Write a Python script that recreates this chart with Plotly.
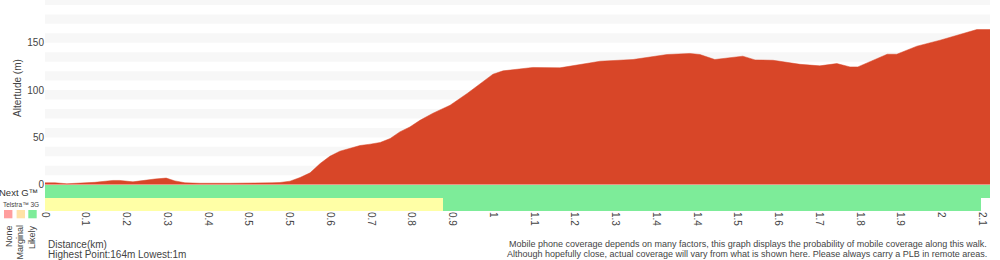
import plotly.graph_objects as go

# ---------------- data ----------------
distance_km = [0.000, 0.023, 0.050, 0.080, 0.114, 0.155, 0.171, 0.201, 0.229, 0.251,
               0.277, 0.297, 0.320, 0.354, 0.423, 0.491, 0.519, 0.537, 0.560, 0.583,
               0.606, 0.629, 0.651, 0.674, 0.697, 0.720, 0.743, 0.766, 0.789, 0.811,
               0.834, 0.857, 0.887, 0.926, 0.965, 1.001, 1.024, 1.047, 1.115, 1.177,
               1.230, 1.269, 1.344, 1.422, 1.474, 1.497, 1.531, 1.595, 1.623, 1.664,
               1.726, 1.771, 1.810, 1.840, 1.858, 1.925, 1.947, 1.993, 2.046, 2.091,
               2.130, 2.160]
elevation_m = [2.0, 2.0, 1.0, 1.5, 2.5, 4.5, 4.5, 3.0, 5.0, 6.0,
               7.0, 4.0, 2.0, 1.5, 1.5, 1.5, 2.0, 2.3, 3.7, 7.6,
               12.5, 22.4, 30.0, 35.4, 38.3, 41.4, 42.8, 44.6, 48.8, 55.8,
               61.0, 68.0, 75.6, 84.0, 96.4, 108.7, 116.8, 120.3, 123.9, 123.5,
               127.4, 130.5, 132.3, 137.6, 138.7, 137.6, 132.3, 135.8, 131.9, 131.5,
               127.2, 125.6, 128.0, 124.5, 124.5, 137.9, 137.9, 146.4, 152.7, 158.8,
               164.0, 164.0]

# coverage segments: network, start km, end km, level
cov_network = ["Next G™", "Telstra™ 3G", "Telstra™ 3G"]
cov_start = [0.000, 0.000, 0.909]
cov_end = [2.160, 0.909, 2.139]
cov_level = ["Likely", "Marginal", "Likely"]

x_tick_labels = ["0", "0.1", "0.2", "0.3", "0.4", "0.5", "0.5", "0.6", "0.7", "0.8",
                 "0.9", "1", "1.1", "1.2", "1.3", "1.4", "1.4", "1.5", "1.6", "1.7",
                 "1.8", "1.9", "2", "2.1"]
x_tick_step = 0.09312
y_tick_values = [0, 50, 100, 150]

legend_levels = ["None", "Marginal", "Likely"]

# ---------------- style ----------------
RED = "#D84628"
LEVEL_COLORS = {"None": "#FF9E9E", "Marginal": "#FFFFA6", "Likely": "#7DEC99"}
LEGEND_COLORS = {"None": "#FF9E9E", "Marginal": "#FFE2A6", "Likely": "#7DEC99"}
FONT = "Liberation Sans, Arial, sans-serif"

W, H = 1000, 260
ML, MR, MT, MB = 45, 10, 0, 49
PW, PH = W - ML - MR, H - MT - MB
ZERO_PX = 184.7          # pixel row of 0 m
SPLIT = (PH - ZERO_PX) / PH
Y_TOP = 195.2
X_MAX = 2.160


def px_x(px):
    return (px - ML) / PW


def px_y(py):
    return (PH - (py - MT)) / PH


fig = go.Figure()

fig.add_trace(go.Scatter(
    x=distance_km, y=elevation_m, mode="lines", fill="tozeroy",
    line=dict(color=RED, width=0.5), fillcolor=RED,
    hoverinfo="skip", showlegend=False, xaxis="x", yaxis="y"))

for net, s, e, lvl in zip(cov_network, cov_start, cov_end, cov_level):
    fig.add_trace(go.Bar(
        y=[net], x=[e - s], base=[s], orientation="h",
        marker=dict(color=LEVEL_COLORS[lvl], line=dict(width=0)),
        hoverinfo="skip", showlegend=False, xaxis="x", yaxis="y2"))

# alternating grid bands
shapes = []
for lo in range(10, 200, 20):
    shapes.append(dict(type="rect", xref="x", yref="y", x0=0, x1=X_MAX,
                       y0=lo, y1=lo + 10, fillcolor="#F7F7F7",
                       line=dict(width=0), layer="below"))

annotations = [
    dict(text="Altertude (m)", textangle=-90, x=px_x(17), y=px_y(88),
         font=dict(size=10, color="#444")),
    dict(text="Next G™", x=px_x(0), y=px_y(192), xanchor="left", xshift=-3,
         font=dict(size=9.5, color="#333")),
    dict(text="Telstra™ 3G", x=px_x(3), y=px_y(204), xanchor="left", xshift=-2,
         font=dict(size=6.5, color="#444")),
    dict(text="Distance(km)", x=px_x(46), y=px_y(244), xanchor="left",
         font=dict(size=10, color="#444")),
    dict(text="Highest Point:164m Lowest:1m", x=px_x(46), y=px_y(254),
         xanchor="left", font=dict(size=10, color="#444")),
    dict(text="Mobile phone coverage depends on many factors, this graph displays the probability of mobile coverage along this walk.",
         x=px_x(989), y=px_y(244), xanchor="right", font=dict(size=9, color="#444")),
    dict(text="Although hopefully close, actual coverage will vary from what is shown here. Please always carry a PLB in remote areas.",
         x=px_x(989), y=px_y(254), xanchor="right", font=dict(size=9, color="#444")),
]
for lvl, cx, tx in zip(legend_levels, [8.2, 20.8, 32.5], [9, 20, 32]):
    shapes.append(dict(type="rect", xref="paper", yref="paper",
                       x0=px_x(cx - 4.2), x1=px_x(cx + 4.2),
                       y0=px_y(218.3), y1=px_y(210),
                       fillcolor=LEGEND_COLORS[lvl], line=dict(width=0)))
    annotations.append(dict(text=lvl, textangle=-90, x=px_x(tx), y=px_y(223),
                            yanchor="top", font=dict(size=9, color="#444")))

for a in annotations:
    a.setdefault("xref", "paper")
    a.setdefault("yref", "paper")
    a.setdefault("showarrow", False)
    a.setdefault("yanchor", "middle")
    a.setdefault("xanchor", "center")

fig.update_layout(
    width=W, height=H,
    margin=dict(l=ML, r=MR, t=MT, b=MB, pad=0),
    paper_bgcolor="white", plot_bgcolor="white",
    font=dict(family=FONT, size=10, color="#444"),
    bargap=0, barmode="overlay",
    shapes=shapes, annotations=annotations,
    xaxis=dict(range=[0, X_MAX], anchor="y2",
               tickvals=[i * x_tick_step for i in range(len(x_tick_labels))],
               ticktext=x_tick_labels, tickangle=90,
               tickfont=dict(size=10, color="#444"),
               showgrid=False, zeroline=False, showline=False, ticks=""),
    yaxis=dict(domain=[SPLIT, 1], range=[0, Y_TOP], tickvals=y_tick_values,
               tickfont=dict(size=10, color="#444"),
               showgrid=False, zeroline=False, showline=False, ticks=""),
    yaxis2=dict(domain=[0, SPLIT], categoryorder="array",
                categoryarray=["Telstra™ 3G", "Next G™"],
                showticklabels=False, showgrid=False, zeroline=False,
                showline=False, ticks=""),
)

fig.write_html("out.html", config={"displayModeBar": False})
